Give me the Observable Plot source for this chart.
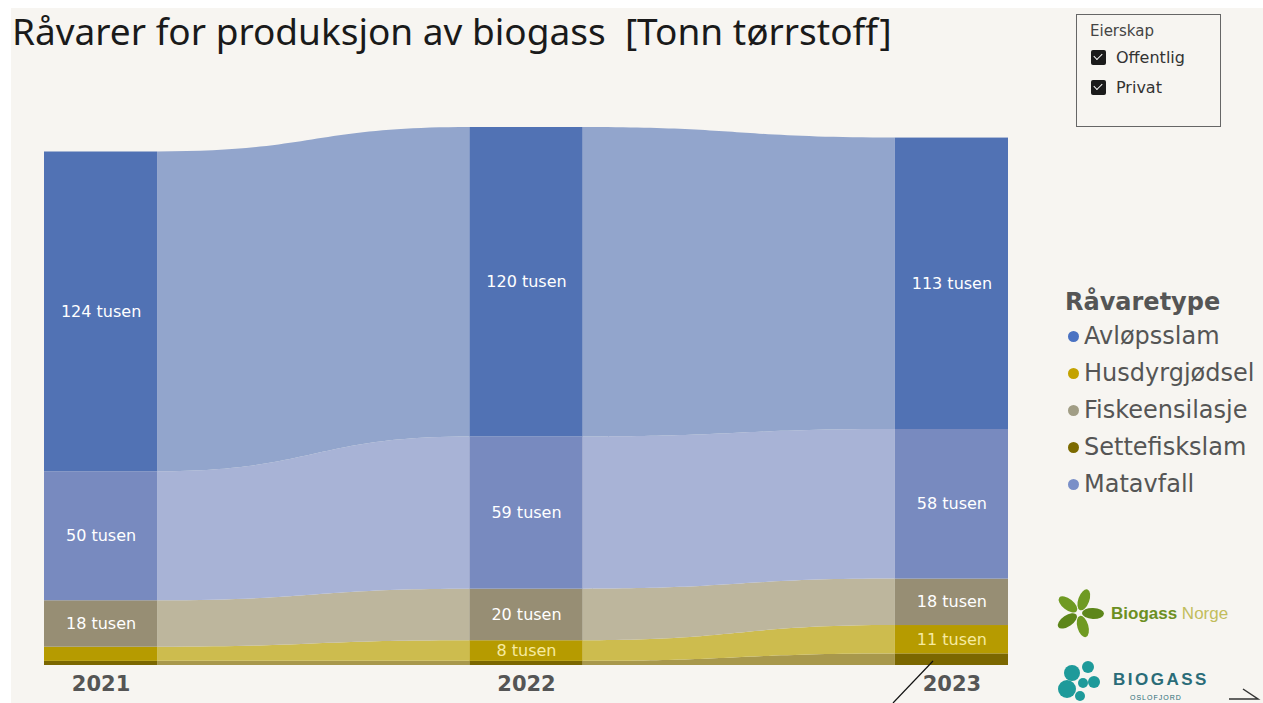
<!DOCTYPE html>
<html>
<head>
<meta charset="utf-8">
<script src="https://cdn.jsdelivr.net/npm/d3@7"></script>
<script src="https://cdn.jsdelivr.net/npm/@observablehq/plot@0.6"></script>
<style>
  html, body { margin: 0; padding: 0; background: #ffffff; }
  #wrap { position: relative; width: 1263px; height: 703px; overflow: hidden; background: #ffffff; }
  #bg { position: absolute; left: 11px; top: 8px; right: 0; bottom: 0; background: #f7f5f1; }
  #chart { position: absolute; left: 0; top: 0; }
  #title { position: absolute; left: 12px; top: 5px; font-family: "Noto Sans", sans-serif; font-size: 37px; color: #1a1a1a; white-space: pre; }
  #filter { position: absolute; left: 1076px; top: 14px; width: 145px; height: 113px; border: 1px solid #666; box-sizing: border-box; font-family: "DejaVu Sans", sans-serif; color: #333; }
  #filter .h { position: absolute; left: 13px; top: 7px; font-size: 15px; color: #444; }
  #filter .row { position: absolute; left: 14px; font-size: 16px; color: #333; display: flex; align-items: center; }
  #filter .box { width: 15px; height: 15px; background: #1b1b1b; border-radius: 2px; margin-right: 10px; position: relative; }
  #filter .box::after { content: ""; position: absolute; left: 3px; top: 3px; width: 7px; height: 4px; border-left: 1.6px solid #fff; border-bottom: 1.6px solid #fff; transform: rotate(-45deg); }
  #legend { position: absolute; left: 1065px; top: 288px; font-family: "DejaVu Sans", sans-serif; color: #555; }
  #legend .lt { font-weight: bold; font-size: 24px; color: #555; margin-bottom: 2px; }
  #legend .it { font-size: 24px; height: 37px; line-height: 37px; display: flex; align-items: center; margin-left: 3px; }
  #legend .dot { width: 11px; height: 11px; border-radius: 50%; margin-right: 5px; }
  .logo { position: absolute; font-family: "Liberation Sans", Arial, sans-serif; }
</style>
</head>
<body>
<div id="wrap">
  <div id="bg"></div>
  <div id="chart"></div>
  <div id="title"></div>
  <div id="filter"></div>
  <div id="legend"></div>
  <svg class="logo" style="left:1050px;top:585px" width="213" height="118" viewBox="0 0 213 118">
    <g transform="translate(29,28)" fill="#6f9a22">
      <ellipse cx="0" cy="-14" rx="5.5" ry="11" transform="rotate(20)"/>
      <ellipse cx="0" cy="-14" rx="5.5" ry="11" transform="rotate(92)" fill="#5d861a"/>
      <ellipse cx="0" cy="-14" rx="5.5" ry="11" transform="rotate(164)"/>
      <ellipse cx="0" cy="-14" rx="5.5" ry="11" transform="rotate(236)" fill="#5d861a"/>
      <ellipse cx="0" cy="-14" rx="5.5" ry="11" transform="rotate(308)"/>
    </g>
    <text x="61" y="34" font-family="Liberation Sans, Arial, sans-serif" font-size="17" font-weight="bold" fill="#6c8f22">Biogass <tspan font-weight="normal" fill="#c2bd5c">Norge</tspan></text>
    <g fill="#1e9a9a">
      <circle cx="22" cy="88" r="8"/>
      <circle cx="38" cy="82" r="6"/>
      <circle cx="17" cy="104" r="9"/>
      <circle cx="33" cy="98" r="5"/>
      <circle cx="44" cy="97" r="6"/>
      <circle cx="30" cy="111" r="5"/>
    </g>
    <text x="63" y="100" font-family="Liberation Sans, Arial, sans-serif" font-size="17" font-weight="bold" letter-spacing="2.5" fill="#2a6c78">BIOGASS</text>
    <text x="80" y="115" font-family="Liberation Sans, Arial, sans-serif" font-size="7" letter-spacing="1" fill="#2a6c78">OSLOFJORD</text>
  </svg>
  <svg style="position:absolute;left:0;top:0" width="1263" height="703">
    <line x1="893" y1="703" x2="933" y2="661" stroke="#111" stroke-width="1.2"/>
    <path d="M1229,699 L1258,699 L1243,689" fill="none" stroke="#333" stroke-width="1.5"/>
  </svg>
</div>
<script>
// ---- data ----
const years = [2021, 2022, 2023];
const legendOrder = ["Avløpsslam", "Husdyrgjødsel", "Fiskeensilasje", "Settefiskslam", "Matavfall"];
const stackOrder = ["Settefiskslam", "Husdyrgjødsel", "Fiskeensilasje", "Matavfall", "Avløpsslam"];
const avlopsslam = [124, 120, 113];
const matavfall = [50, 59, 58];
const fiskeensilasje = [18, 20, 18];
const husdyrgjodsel = [5.5, 8, 11];
const settefiskslam = [1.6, 1.6, 4.5];
const titleText = "Råvarer for produksjon av biogass  [Tonn tørrstoff]";
const legendTitle = "Råvaretype";
const filterTitle = "Eierskap";
const filterItems = ["Offentlig", "Privat"];
const unitLabel = "tusen";

const valuesBy = {
  "Avløpsslam": avlopsslam,
  "Matavfall": matavfall,
  "Fiskeensilasje": fiskeensilasje,
  "Husdyrgjødsel": husdyrgjodsel,
  "Settefiskslam": settefiskslam
};
const barColor = {
  "Avløpsslam": "#5172b4",
  "Matavfall": "#788abf",
  "Fiskeensilasje": "#978e74",
  "Husdyrgjødsel": "#b69b00",
  "Settefiskslam": "#7b6700"
};
const ribbonColor = {
  "Avløpsslam": "#92a5cc",
  "Matavfall": "#a8b3d6",
  "Fiskeensilasje": "#bdb69d",
  "Husdyrgjødsel": "#cdbc4e",
  "Settefiskslam": "#a8984c"
};
const dotColor = {
  "Avløpsslam": "#4a72c2",
  "Husdyrgjødsel": "#c3a200",
  "Fiskeensilasje": "#a19d85",
  "Settefiskslam": "#7c6a00",
  "Matavfall": "#7a8fc8"
};
const labelColor = {
  "Avløpsslam": "#ffffff",
  "Matavfall": "#ffffff",
  "Fiskeensilasje": "#ffffff",
  "Husdyrgjødsel": "#f7eba0",
  "Settefiskslam": "#ffffff"
};

// ---- stacking ----
const hw = 0.133; // half bar width in year units
const segs = [];
years.forEach((yr, i) => {
  let acc = 0;
  for (const c of stackOrder) {
    const v = valuesBy[c][i];
    segs.push({cat: c, year: yr, i, v, y1: acc, y2: acc + v});
    acc += v;
  }
});
const totals = years.map((_, i) => stackOrder.reduce((s, c) => s + valuesBy[c][i], 0));
const ribbons = [];
for (let i = 0; i < years.length - 1; i++) {
  for (const c of stackOrder) {
    const a = segs.find(s => s.cat === c && s.i === i);
    const b = segs.find(s => s.cat === c && s.i === i + 1);
    ribbons.push({cat: c, key: c + i, x: years[i] + hw, y1: a.y1, y2: a.y2});
    ribbons.push({cat: c, key: c + i, x: years[i + 1] - hw, y1: b.y1, y2: b.y2});
  }
}
const labels = segs.filter(s => s.v >= 8);

const chart = Plot.plot({
  width: 1263,
  height: 703,
  marginTop: 127,
  marginBottom: 38,
  marginLeft: 44,
  marginRight: 255,
  style: {background: "transparent", overflow: "visible"},
  x: {domain: [years[0] - hw, years[years.length - 1] + hw], axis: null},
  y: {domain: [0, d3.max(totals)], axis: null},
  marks: [
    Plot.areaY(ribbons, {x: "x", y1: "y1", y2: "y2", z: "key", fill: d => ribbonColor[d.cat], curve: "bump-x"}),
    Plot.rect(segs, {x1: d => d.year - hw, x2: d => d.year + hw, y1: "y1", y2: "y2", fill: d => barColor[d.cat]}),
    Plot.text(labels, {x: "year", y: d => (d.y1 + d.y2) / 2, text: d => `${Math.round(d.v)} ${unitLabel}`, fill: d => labelColor[d.cat], fontSize: 16, fontFamily: "DejaVu Sans"}),
    Plot.axisX({ticks: years, tickFormat: d => String(d), tickSize: 0, tickPadding: 11, fontSize: 21, fontWeight: "bold", fontFamily: "DejaVu Sans", color: "#555", label: null})
  ]
});
document.getElementById("chart").appendChild(chart);

document.getElementById("title").textContent = titleText;

const f = document.getElementById("filter");
const h = document.createElement("div"); h.className = "h"; h.textContent = filterTitle; f.appendChild(h);
filterItems.forEach((t, k) => {
  const r = document.createElement("div"); r.className = "row"; r.style.top = (33 + k * 30) + "px";
  const b = document.createElement("span"); b.className = "box"; r.appendChild(b);
  const s = document.createElement("span"); s.textContent = t; r.appendChild(s);
  f.appendChild(r);
});

const lg = document.getElementById("legend");
const lt = document.createElement("div"); lt.className = "lt"; lt.textContent = legendTitle; lg.appendChild(lt);
legendOrder.forEach(c => {
  const it = document.createElement("div"); it.className = "it";
  const d = document.createElement("span"); d.className = "dot"; d.style.background = dotColor[c]; it.appendChild(d);
  const s = document.createElement("span"); s.textContent = c; it.appendChild(s);
  lg.appendChild(it);
});
</script>
</body>
</html>
